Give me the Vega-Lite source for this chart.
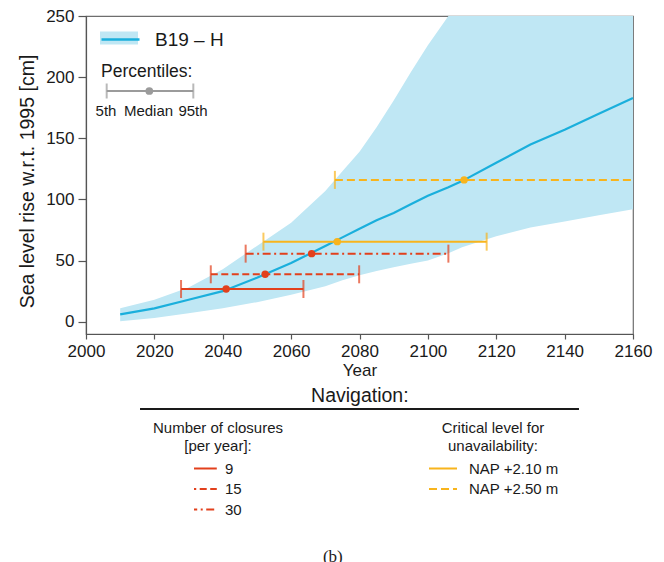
{
  "$schema": "https://vega.github.io/schema/vega-lite/v6.json",
  "width": 547,
  "height": 318,
  "autosize": {"type": "none"},
  "padding": {"left": 86, "top": 16, "right": 31, "bottom": 228},
  "background": "white",
  "config": {
    "font": "Liberation Sans",
    "view": {"stroke": "#6e6e6e", "strokeWidth": 1.2},
    "axis": {
      "domainColor": "#555555", "tickColor": "#555555", "labelColor": "#1a1a1a", "titleColor": "#1a1a1a",
      "grid": false, "labelFont": "Liberation Sans", "titleFont": "Liberation Sans",
      "titleFontWeight": "normal", "labelFontSize": 17, "titleFontSize": 17, "domainWidth": 1.2, "tickWidth": 1.2
    },
    "legend": {"labelFont": "Liberation Sans", "titleFont": "Liberation Sans", "titleFontWeight": "normal", "labelColor": "#1a1a1a", "titleColor": "#1a1a1a"}
  },
  "datasets": {
    "band": [
      {"year": 2010, "lo": 0.5, "med": 6, "hi": 11},
      {"year": 2020, "lo": 3, "med": 11, "hi": 18},
      {"year": 2030, "lo": 7, "med": 18, "hi": 28},
      {"year": 2040, "lo": 11, "med": 25, "hi": 43},
      {"year": 2050, "lo": 16, "med": 36, "hi": 62},
      {"year": 2060, "lo": 22, "med": 48, "hi": 81},
      {"year": 2070, "lo": 29, "med": 62, "hi": 107},
      {"year": 2075, "lo": 34, "med": 69, "hi": 123},
      {"year": 2080, "lo": 38, "med": 76, "hi": 139},
      {"year": 2085, "lo": 41.5, "med": 83, "hi": 159},
      {"year": 2090, "lo": 44.5, "med": 89, "hi": 181},
      {"year": 2095, "lo": 47.5, "med": 96, "hi": 204},
      {"year": 2100, "lo": 50, "med": 103, "hi": 226},
      {"year": 2106, "lo": 56, "med": 110, "hi": 250},
      {"year": 2110, "lo": 61, "med": 115, "hi": 250},
      {"year": 2120, "lo": 70, "med": 130, "hi": 250},
      {"year": 2130, "lo": 77, "med": 145, "hi": 250},
      {"year": 2140, "lo": 82, "med": 157, "hi": 250},
      {"year": 2150, "lo": 87, "med": 170, "hi": 250},
      {"year": 2160, "lo": 92, "med": 183, "hi": 250}
    ],
    "ranges": [
      {"kind": "closures", "name": "9", "lo": 2027.8, "med": 2041, "hi": 2063.6, "value": 26.8},
      {"kind": "closures", "name": "15", "lo": 2036.5, "med": 2052.4, "hi": 2079.9, "value": 38.8},
      {"kind": "closures", "name": "30", "lo": 2046.7, "med": 2066, "hi": 2106, "value": 55.7},
      {"kind": "level", "name": "NAP +2.10 m", "lo": 2051.9, "med": 2073.5, "hi": 2117.2, "value": 65.5},
      {"kind": "level", "name": "NAP +2.50 m", "lo": 2072.8, "med": 2110.6, "hi": 2165, "value": 116}
    ]
  },
  "layer": [
    {
      "data": {"name": "band"},
      "mark": {"type": "area", "opacity": 1},
      "encoding": {
        "x": {"field": "year", "type": "quantitative", "scale": {"domain": [2000, 2160], "nice": false, "zero": false},
          "axis": {"title": "Year", "format": "d", "values": [2000, 2020, 2040, 2060, 2080, 2100, 2120, 2140, 2160], "tickSize": 5, "labelPadding": 4, "titlePadding": 3, "titleFontSize": 17, "labelFlush": false}},
        "y": {"field": "lo", "type": "quantitative", "scale": {"domain": [-10, 250], "nice": false, "zero": false},
          "axis": {"title": "Sea level rise w.r.t. 1995 [cm]", "values": [0, 50, 100, 150, 200, 250], "tickSize": 8, "labelPadding": 4, "titlePadding": 8, "titleFontSize": 19.5, "titleY": 165, "labelFlush": false}},
        "y2": {"field": "hi"},
        "fill": {"datum": "band", "scale": {"range": ["#bfe7f4"]},
          "legend": {"orient": "none", "legendX": 14, "legendY": 3, "title": null, "symbolType": "M-1,-0.34H1V0.34H-1Z", "symbolSize": 1444, "symbolStrokeWidth": 0, "symbolFillColor": "#bfe7f4", "symbolOpacity": 1, "labelExpr": "''", "padding": 0}}
      }
    },
    {
      "data": {"name": "band"},
      "mark": {"type": "line", "strokeWidth": 2.2},
      "encoding": {
        "x": {"field": "year", "type": "quantitative"},
        "y": {"field": "med", "type": "quantitative"},
        "stroke": {"datum": "B19 – H", "scale": {"range": ["#1aafdc"]},
          "legend": {"orient": "none", "legendX": 14, "legendY": 3, "title": null, "symbolType": "stroke", "symbolSize": 1444, "symbolStrokeWidth": 2.5, "symbolStrokeColor": "#1aafdc", "labelFontSize": 19, "labelOffset": 14, "padding": 0}}
      }
    },
    {
      "data": {"name": "ranges"},
      "transform": [{"filter": "datum.kind === 'closures'"}],
      "mark": {"type": "rule", "color": "#e2401c", "strokeWidth": 2, "clip": true},
      "encoding": {
        "x": {"field": "lo", "type": "quantitative"},
        "x2": {"field": "hi"},
        "y": {"field": "value", "type": "quantitative"},
        "strokeDash": {"field": "name", "type": "nominal", "scale": {"domain": ["9", "15", "30"], "range": [[1, 0], [7, 3.5], [8, 3.5, 2, 3.5]]},
          "legend": {"orient": "none", "legendX": 67, "legendY": 405, "title": ["Number of closures", "[per year]:"], "titleAnchor": "middle", "titleAlign": "center", "titleFontSize": 15, "titleLineHeight": 18, "titlePadding": 7, "labelFontSize": 15, "symbolType": "stroke", "symbolSize": 760, "symbolStrokeWidth": 2, "symbolStrokeColor": "#e2401c", "symbolOffset": -6, "labelOffset": 7, "clipHeight": 15, "rowPadding": 4.5, "padding": 0}}
      }
    },
    {
      "data": {"name": "ranges"},
      "transform": [{"filter": "datum.kind === 'level'"}],
      "mark": {"type": "rule", "color": "#f8b41c", "strokeWidth": 2, "clip": true},
      "encoding": {
        "x": {"field": "lo", "type": "quantitative"},
        "x2": {"field": "hi"},
        "y": {"field": "value", "type": "quantitative"},
        "strokeDash": {"field": "name", "type": "nominal", "scale": {"domain": ["NAP +2.10 m", "NAP +2.50 m"], "range": [[1, 0], [8, 4]]},
          "legend": {"orient": "none", "legendX": 342, "legendY": 405, "title": ["Critical level for", "unavailability:"], "titleAnchor": "middle", "titleAlign": "center", "titleFontSize": 15, "titleLineHeight": 18, "titlePadding": 7, "labelFontSize": 15, "symbolType": "stroke", "symbolSize": 784, "symbolStrokeWidth": 2, "symbolStrokeColor": "#f8b41c", "labelOffset": 11, "clipHeight": 15, "rowPadding": 4.5, "padding": 0}}
      }
    },
    {
      "data": {"name": "ranges"},
      "mark": {"type": "tick", "orient": "vertical", "size": 18, "thickness": 2, "clip": true},
      "encoding": {
        "x": {"field": "lo", "type": "quantitative"},
        "y": {"field": "value", "type": "quantitative"},
        "color": {"field": "kind", "type": "nominal", "scale": {"domain": ["closures", "level"], "range": ["#e2401c", "#f8b41c"]}, "legend": null}
      }
    },
    {
      "data": {"name": "ranges"},
      "mark": {"type": "tick", "orient": "vertical", "size": 18, "thickness": 2, "clip": true},
      "encoding": {
        "x": {"field": "hi", "type": "quantitative"},
        "y": {"field": "value", "type": "quantitative"},
        "color": {"field": "kind", "type": "nominal", "legend": null}
      }
    },
    {
      "data": {"name": "ranges"},
      "mark": {"type": "point", "filled": true, "size": 55, "opacity": 1},
      "encoding": {
        "x": {"field": "med", "type": "quantitative"},
        "y": {"field": "value", "type": "quantitative"},
        "color": {"field": "kind", "type": "nominal", "legend": null}
      }
    },
    {
      "data": {"values": [{}]},
      "mark": {"type": "rule", "color": "#9b9b9b", "strokeWidth": 2},
      "encoding": {"x": {"datum": 2006.05}, "x2": {"datum": 2031.39}, "y": {"datum": 188.68}}
    },
    {
      "data": {"values": [{}]},
      "mark": {"type": "tick", "orient": "vertical", "size": 15, "thickness": 2, "color": "#9b9b9b"},
      "encoding": {"x": {"datum": 2006.05}, "y": {"datum": 188.68}}
    },
    {
      "data": {"values": [{}]},
      "mark": {"type": "tick", "orient": "vertical", "size": 15, "thickness": 2, "color": "#9b9b9b"},
      "encoding": {"x": {"datum": 2031.39}, "y": {"datum": 188.68}}
    },
    {
      "data": {"values": [{}]},
      "mark": {"type": "point", "filled": true, "size": 60, "color": "#9b9b9b", "opacity": 1},
      "encoding": {"x": {"datum": 2018.52}, "y": {"datum": 188.68}}
    },
    {
      "data": {"values": [{}]},
      "mark": {"type": "text", "align": "left", "baseline": "middle", "fontSize": 17.5, "color": "#1a1a1a", "text": "Percentiles:"},
      "encoding": {"x": {"datum": 2004.39}, "y": {"datum": 204.46}}
    },
    {
      "data": {"values": [{}]},
      "mark": {"type": "text", "align": "center", "baseline": "middle", "fontSize": 15, "color": "#1a1a1a", "text": "5th"},
      "encoding": {"x": {"datum": 2005.85}, "y": {"datum": 172.57}}
    },
    {
      "data": {"values": [{}]},
      "mark": {"type": "text", "align": "center", "baseline": "middle", "fontSize": 15, "color": "#1a1a1a", "text": "Median"},
      "encoding": {"x": {"datum": 2018.28}, "y": {"datum": 172.57}}
    },
    {
      "data": {"values": [{}]},
      "mark": {"type": "text", "align": "center", "baseline": "middle", "fontSize": 15, "color": "#1a1a1a", "text": "95th"},
      "encoding": {"x": {"datum": 2031.3}, "y": {"datum": 172.57}}
    },
    {
      "data": {"values": [{}]},
      "mark": {"type": "text", "align": "center", "baseline": "middle", "fontSize": 19.5, "color": "#1a1a1a", "text": "Navigation:"},
      "encoding": {"x": {"datum": 2080.1}, "y": {"datum": -60.69}}
    },
    {
      "data": {"values": [{}]},
      "mark": {"type": "rule", "color": "#1a1a1a", "strokeWidth": 2},
      "encoding": {"x": {"datum": 2015.8}, "x2": {"datum": 2144.2}, "y": {"datum": -71.32}}
    },
    {
      "data": {"values": [{}]},
      "mark": {"type": "text", "align": "center", "baseline": "top", "fontSize": 17, "font": "Liberation Serif", "color": "#1a1a1a", "text": "(b)"},
      "encoding": {"x": {"datum": 2072.2}, "y": {"datum": -185.79}}
    }
  ],
  "resolve": {"scale": {"strokeDash": "independent"}, "legend": {"strokeDash": "independent"}}
}
